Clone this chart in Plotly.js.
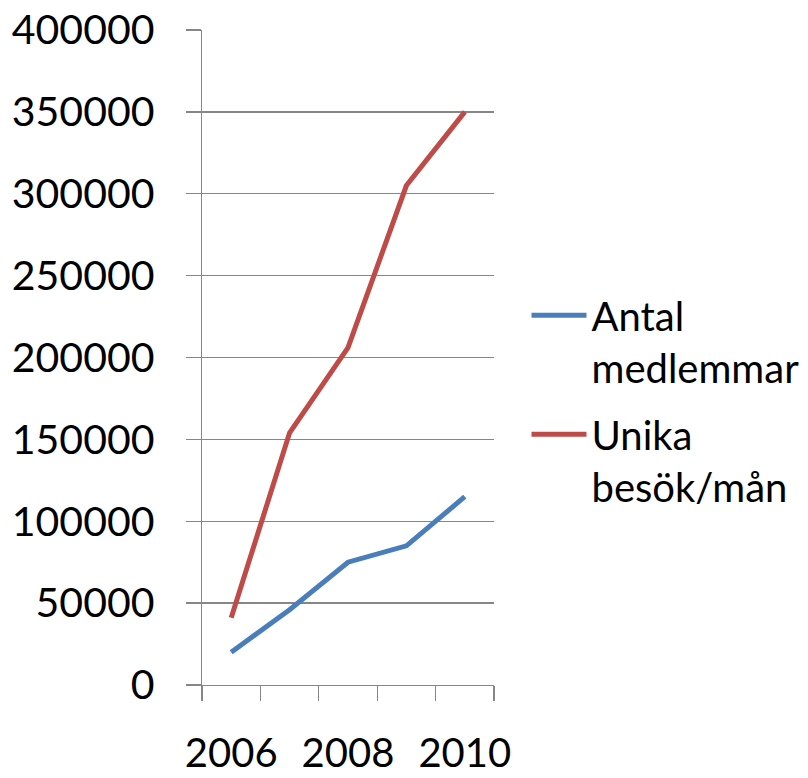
<!DOCTYPE html>
<html><head><meta charset="utf-8">
<script src="https://cdn.plot.ly/plotly-3.0.1.min.js"></script>
<style>
html,body{margin:0;padding:0;background:#fff;}
#chart{width:808px;height:778px;}
</style></head><body><div id="chart"></div>
<script>
// Data
const years = [2006, 2007, 2008, 2009, 2010];
const antalMedlemmar = [20000, 46000, 75000, 85000, 115000];
const unikaBesok = [41000, 154000, 206000, 305000, 350000];
const seriesNames = ["Antal<br>medlemmar", "Unika<br>besök/mån"];
const xTickYears = [2006, 2008, 2010];
const yTickVals = [0, 50000, 100000, 150000, 200000, 250000, 300000, 350000, 400000];

const blue = '#4A7EBB', red = '#BE4B48', grid = '#868686';
const font = 'Lato, "Open Sans", sans-serif';

const traces = [
  {x: years, y: antalMedlemmar, name: seriesNames[0], legendgroup: 'a', type: 'scatter', mode: 'lines',
   line: {color: blue, width: 5}},
  {x: years, y: unikaBesok, name: seriesNames[1], legendgroup: 'b', type: 'scatter', mode: 'lines',
   line: {color: red, width: 5}}
];

const layout = {
  width: 808, height: 778,
  margin: {l: 202, r: 314, t: 30, b: 93},
  paper_bgcolor: '#fff', plot_bgcolor: '#fff',
  font: {family: font, color: '#000', size: 42},
  showlegend: true,
  legend: {xref: 'container', yref: 'container', x: 0.6516, xanchor: 'left', y: 0.6365, yanchor: 'top', valign: 'top',
           itemwidth: 55, tracegroupgap: 12, font: {family: font, size: 40, color: '#000'},
           bgcolor: 'rgba(0,0,0,0)', borderwidth: 0},
  xaxis: {
    type: 'linear', range: [years[0] - 0.5, years[years.length - 1] + 0.5],
    tickvals: xTickYears, ticktext: xTickYears.map(String),
    ticks: '', showgrid: false, zeroline: false,
    showline: true, linecolor: grid, linewidth: 1.3,
    tickfont: {family: font, size: 40, color: '#000'},
    ticklabelstandoff: 33,
    minor: {ticks: 'outside', ticklen: 15, tickcolor: grid, tickwidth: 1.3,
            tick0: years[0] - 0.5, dtick: 1, showgrid: false},
    fixedrange: true
  },
  yaxis: {
    range: [0, 400000], tickvals: yTickVals, ticktext: yTickVals.map(String),
    ticks: 'outside', ticklen: 15, tickcolor: grid, tickwidth: 1.3,
    showgrid: true, gridcolor: grid, gridwidth: 1.3,
    zeroline: false, showline: true, linecolor: grid, linewidth: 1.3,
    tickfont: {family: font, size: 41, color: '#000'},
    ticklabelstandoff: 23,
    fixedrange: true
  }
};

Plotly.newPlot('chart', traces, layout, {staticPlot: true, displayModeBar: false}).then(function () {
  document.querySelectorAll('.legend .legendlines path').forEach(function (p) {
    p.setAttribute('d', 'M5,0h55');
  });
});
</script></body></html>
